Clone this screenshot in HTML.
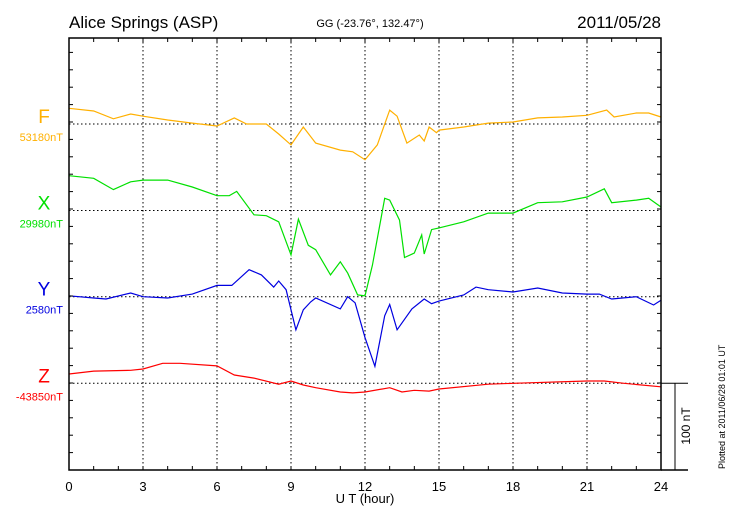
<!DOCTYPE html>
<html><head><meta charset="utf-8"><style>
body{margin:0;background:#fff;}
svg{display:block;font-family:"Liberation Sans",sans-serif;}
</style></head><body>
<svg id="chart" width="730" height="520" viewBox="0 0 730 520" xmlns="http://www.w3.org/2000/svg">
<text x="69" y="28" font-size="17">Alice Springs (ASP)</text>
<text x="370" y="27" font-size="11" text-anchor="middle">GG (-23.76°, 132.47°)</text>
<text x="661" y="28" font-size="17" text-anchor="end">2011/05/28</text>
<text x="365" y="503" font-size="13" text-anchor="middle">U T (hour)</text>
<text transform="translate(725,469) rotate(-90)" font-size="9">Plotted at 2011/06/28 01:01  UT</text>
<text transform="translate(690,426) rotate(-90)" font-size="12" text-anchor="middle">100 nT</text>
<g id="grid"></g><g id="series"></g><g id="axes"></g>
</svg>
<script>
const hoursF=[0,1,1.8,2.5,3,4,5,6,6.7,7.2,8,8.5,9,9.5,10,11,11.5,12,12.5,13,13.3,13.7,14.2,14.4,14.6,14.9,15,16,17,18,19,20,21,21.8,22.1,23,23.5,24];
const valsF=[18,15,6,11.5,9,4.6,1,-2.3,7,0,0,-11.5,-24,-3.4,-22,-30,-32,-41,-24,16,9,-22,-12.6,-19.5,-3.4,-10,-7,-3.4,1,2.3,7,8,10,16,8,12.6,12.6,8];
const hoursX=[0,1,1.8,2.5,3,4,5,6,6.5,6.8,7.5,8,8.5,9,9.3,9.7,10,10.6,11,11.3,11.7,12,12.3,12.8,13,13.4,13.6,14,14.3,14.4,14.7,15,16,17,18,19,20,21,21.7,22,23,23.5,24];
const valsX=[40,37,24,33,35,35,27,17,17,22,-5,-6,-13,-51,-10,-40,-45,-74,-59,-72,-97,-98,-63,14,12,-11,-54,-49,-28,-50,-22,-20,-13,-3,-3,9,10,15.5,25,9,12,14,4];
const hoursY=[0,1,1.5,2.5,3,4,5,6,6.6,7.3,7.8,8.3,8.5,8.8,9.2,9.5,9.8,10,11,11.3,11.6,12,12.4,12.8,13,13.3,13.9,14.4,14.7,15,16,16.5,17,18,19,20,21,21.5,22,23,23.7,24];
const valsY=[1,-1.5,-2.6,4.3,0,-1.5,3,13,13,31,25,11,18,8,-38,-15,-6,-1.5,-14,0,-7,-47,-80,-22,-9,-38,-14,-2.6,-8,-5,2,11,8,5.4,10,4.3,3,3,-2.6,0,-9.5,-4];
const hoursZ=[0,1,2.5,3,3.8,4.5,6,6.7,7.5,8.5,9,9.5,10,11,11.5,12,13,13.5,14,14.6,15,17,18,21,21.7,22.5,24];
const valsZ=[10.7,14,15,16.4,23,23,20,9.5,6,-1,2.6,-2,-5,-10,-11,-10,-5,-10,-8,-9,-6.5,-1,0,2.6,2.6,0,-4];
const labelsX=["0","3","6","9","12","15","18","21","24"];
const compNames=["F","X","Y","Z"];
const compBase=["53180nT","29980nT","2580nT","-43850nT"];

const NS="http://www.w3.org/2000/svg";
const L=69,R=661,T=38,B=470;
const xs=h=>L+h*(R-L)/24;
const PX=0.87; // px per nT
const baseY=[124,210.5,296.7,383.3];
const colors=["#ffb000","#00e000","#0000e0","#ff0000"];
function mk(t,a,p){const e=document.createElementNS(NS,t);for(const k in a)e.setAttribute(k,a[k]);p.appendChild(e);return e;}
const grid=document.getElementById('grid'),ser=document.getElementById('series'),ax=document.getElementById('axes');
for(let h=3;h<24;h+=3){const l=mk('line',{x1:xs(h),x2:xs(h),y1:T,y2:B,stroke:'#000','stroke-width':1,'stroke-dasharray':'1.5,2.5'},grid);

}
baseY.forEach((y,i)=>{const l=mk('line',{x1:L,x2:R,y1:y,y2:y,stroke:'#000','stroke-width':1,'stroke-dasharray':'1.5,2.5'},grid);

});
const data=[[hoursF,valsF],[hoursX,valsX],[hoursY,valsY],[hoursZ,valsZ]];
data.forEach((d,i)=>{const pts=d[0].map((h,j)=>xs(h).toFixed(1)+','+(baseY[i]-d[1][j]*PX).toFixed(1)).join(' ');
const p=mk('polyline',{points:pts,fill:'none',stroke:colors[i],'stroke-width':1.2},ser);


const t=mk('text',{x:44,y:baseY[i]-1,'font-size':19,fill:colors[i],'text-anchor':'middle'},ax);t.textContent=compNames[i];


const t2=mk('text',{x:63,y:baseY[i]+17,'font-size':11,fill:colors[i],'text-anchor':'end'},ax);t2.textContent=compBase[i];

});
const box=mk('rect',{x:L,y:T,width:R-L,height:B-T,fill:'none',stroke:'#000','stroke-width':1.5},ax);


for(let h=1;h<24;h++){mk('line',{x1:xs(h),x2:xs(h),y1:T,y2:T+4,stroke:'#000'},ax);mk('line',{x1:xs(h),x2:xs(h),y1:B,y2:B-4,stroke:'#000'},ax);}
for(let k=1;k<25;k++){const y=B-k*20*PX;if(y<=T+1)break;mk('line',{x1:L,x2:L+4,y1:y,y2:y,stroke:'#000'},ax);mk('line',{x1:R,x2:R-4,y1:y,y2:y,stroke:'#000'},ax);}
labelsX.forEach((s,i)=>{const t=mk('text',{x:xs(i*3),y:491,'font-size':13,'text-anchor':'middle'},ax);t.textContent=s;

});
mk('line',{x1:R,x2:688,y1:B,y2:B,stroke:'#000','stroke-width':1.5},ax);
mk('line',{x1:R,x2:688,y1:baseY[3],y2:baseY[3],stroke:'#000','stroke-width':1},ax);
const sb=mk('line',{x1:675,x2:675,y1:baseY[3],y2:baseY[3]+100*PX,stroke:'#000','stroke-width':1},ax);


</script>
</body></html>
